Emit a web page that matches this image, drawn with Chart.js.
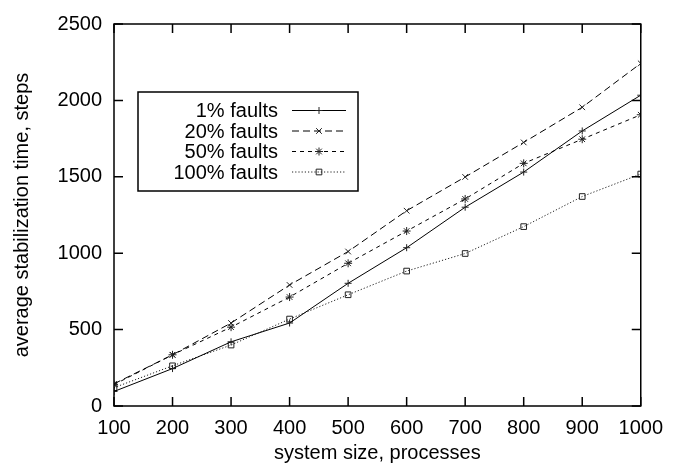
<!DOCTYPE html>
<html><head><meta charset="utf-8">
<script src="https://cdn.jsdelivr.net/npm/chart.js@4/dist/chart.umd.min.js"></script>
<style>html,body{margin:0;padding:0;background:#fff}</style>
</head><body>
<canvas id="c" width="673" height="472" style="width:673px;height:472px;display:block"></canvas>
<script>
const systemSizes = [100, 200, 300, 400, 500, 600, 700, 800, 900, 1000];
const faults1   = [95, 245, 420, 543, 803, 1036, 1301, 1531, 1800, 2034];
const faults20  = [145, 335, 543, 792, 1011, 1278, 1499, 1725, 1955, 2242];
const faults50  = [140, 335, 516, 713, 934, 1145, 1355, 1588, 1746, 1906];
const faults100 = [120, 263, 399, 569, 728, 883, 998, 1174, 1371, 1518];
const seriesLabels = ['1% faults', '20% faults', '50% faults', '100% faults'];
const xLabel = 'system size, processes';
const yLabel = 'average stabilization time, steps';

const FONT = '"Liberation Sans", Arial, Helvetica, sans-serif';
const pts = arr => arr.map((v, i) => ({x: systemSizes[i], y: v}));

const styles = [
  {dash: [], point: 'cross', r: 3.5},
  {dash: [7, 4], point: 'crossRot', r: 4},
  {dash: [4, 4], point: 'star', r: 4},
  {dash: [1.2, 2], point: 'rect', r: 4}
];
const allSeries = [faults1, faults20, faults50, faults100];

const datasets = allSeries.map((arr, i) => ({
  label: seriesLabels[i],
  data: pts(arr),
  borderColor: i === 3 ? '#222' : '#000',
  borderWidth: 1,
  borderDash: styles[i].dash,
  pointStyle: styles[i].point,
  pointRadius: styles[i].r,
  pointBorderColor: '#222',
  pointBackgroundColor: 'rgba(255,255,255,0)',
  pointBorderWidth: 1,
  tension: 0,
  fill: false
}));

const framePlugin = {
  id: 'frame',
  afterDraw(chart) {
    const ctx = chart.ctx, a = chart.chartArea;
    const xs = chart.scales.x, ys = chart.scales.y;
    const TL = 9;
    ctx.save();
    ctx.strokeStyle = '#000';
    ctx.lineWidth = 1.5;
    ctx.strokeRect(a.left, a.top, a.right - a.left, a.bottom - a.top);
    ctx.beginPath();
    xs.ticks.forEach(t => {
      const px = xs.getPixelForValue(t.value);
      ctx.moveTo(px, a.bottom); ctx.lineTo(px, a.bottom - TL);
      ctx.moveTo(px, a.top); ctx.lineTo(px, a.top + TL);
    });
    ys.ticks.forEach(t => {
      const py = ys.getPixelForValue(t.value);
      ctx.moveTo(a.left, py); ctx.lineTo(a.left + TL, py);
      ctx.moveTo(a.right, py); ctx.lineTo(a.right - TL, py);
    });
    ctx.stroke();

    // legend box
    const bx = a.left + 24, by = a.top + 68, bw = 220, bh = 99;
    ctx.fillStyle = '#fff';
    ctx.fillRect(bx, by, bw, bh);
    ctx.lineWidth = 1.5;
    ctx.strokeRect(bx, by, bw, bh);
    ctx.font = '20px ' + FONT;
    ctx.textAlign = 'right';
    ctx.textBaseline = 'middle';
    chart.data.datasets.forEach((ds, i) => {
      const yy = by + 18.5 + i * 20.5;
      ctx.fillStyle = '#000';
      ctx.fillText(ds.label, bx + 140, yy + 1);
      ctx.save();
      ctx.strokeStyle = ds.borderColor;
      ctx.lineWidth = 1;
      ctx.setLineDash(ds.borderDash);
      ctx.beginPath();
      ctx.moveTo(bx + 154, yy); ctx.lineTo(bx + 208, yy);
      ctx.stroke();
      ctx.setLineDash([]);
      ctx.strokeStyle = ds.pointBorderColor;
      ctx.fillStyle = ds.pointBackgroundColor;
      Chart.helpers.drawPoint(ctx, {pointStyle: ds.pointStyle, radius: ds.pointRadius, rotation: 0, borderWidth: 1}, bx + 181, yy);
      ctx.restore();
    });
    ctx.restore();
  }
};

const plain = v => String(v);

new Chart(document.getElementById('c'), {
  type: 'line',
  data: {datasets},
  options: {
    responsive: false,
    devicePixelRatio: 1,
    animation: false,
    layout: {padding: {top: 14, right: 26, left: 0, bottom: 0}},
    plugins: {legend: {display: false}, tooltip: {enabled: false}},
    scales: {
      x: {
        type: 'linear', min: 100, max: 1000,
        grid: {display: false, drawTicks: false}, border: {display: false},
        ticks: {stepSize: 100, callback: plain, color: '#000', font: {family: FONT, size: 20}, padding: 10, maxRotation: 0, autoSkip: false},
        title: {display: true, text: xLabel, color: '#000', font: {family: FONT, size: 20}, padding: {top: 0, bottom: 7}},
        afterFit(s) { s.height = 66; }
      },
      y: {
        type: 'linear', min: 0, max: 2500,
        grid: {display: false, drawTicks: false}, border: {display: false},
        ticks: {stepSize: 500, callback: plain, color: '#000', font: {family: FONT, size: 20}, padding: 12},
        title: {display: true, text: yLabel, color: '#000', font: {family: FONT, size: 20}, padding: {top: 10, bottom: 0}},
        afterFit(s) { s.width = 114; }
      }
    }
  },
  plugins: [framePlugin]
});
</script>
</body></html>
